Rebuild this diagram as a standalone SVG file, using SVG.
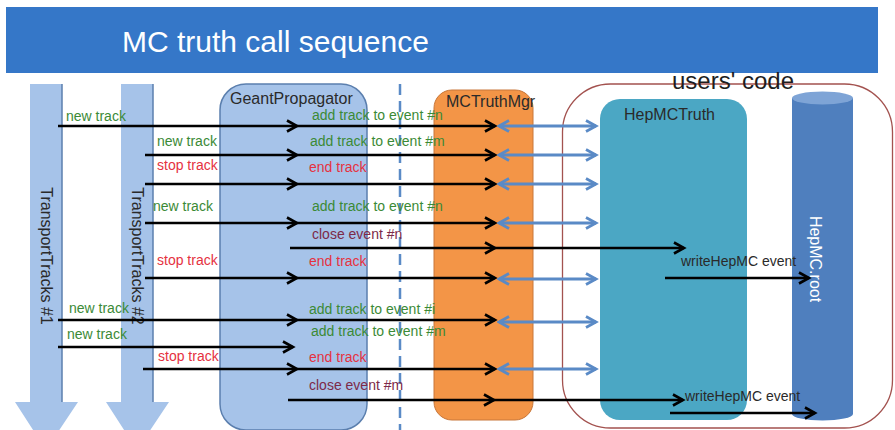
<svg xmlns="http://www.w3.org/2000/svg" width="895" height="430" viewBox="0 0 895 430">
  <style>
    text { font-family: "Liberation Sans", Arial, sans-serif; }
    .lbl { font-size: 14px; }
    .green { fill: #3b8a36; }
    .red { fill: #e5323f; }
    .maroon { fill: #7d2a48; }
    .dark { fill: #2a2a2a; }
    .call { stroke: #000; stroke-width: 2.6; fill: none; marker-end: url(#chev); }
    .link { stroke: #5a8ac6; stroke-width: 2.8; fill: none; marker-start: url(#chevBlueStart); marker-end: url(#chevBlue); }
    .pale { fill: #a6c3e9; }
    .edge { stroke: #5b7fae; stroke-width: 1.5; }
  </style>
  <defs>
    <marker id="chev" markerUnits="userSpaceOnUse" markerWidth="14" markerHeight="14" viewBox="0 0 14 14" refX="11.5" refY="7" orient="auto">
      <path d="M1.5,1.5 L11.5,7 L1.5,12.5" fill="none" stroke="#000" stroke-width="2.6"/>
    </marker>
    <marker id="chevBlue" markerUnits="userSpaceOnUse" markerWidth="14" markerHeight="14" viewBox="0 0 14 14" refX="11.5" refY="7" orient="auto">
      <path d="M1.5,1.5 L11.5,7 L1.5,12.5" fill="none" stroke="#5a8ac6" stroke-width="2.8"/>
    </marker>
    <marker id="chevBlueStart" markerUnits="userSpaceOnUse" markerWidth="14" markerHeight="14" viewBox="0 0 14 14" refX="2.5" refY="7" orient="auto">
      <path d="M12.5,1.5 L2.5,7 L12.5,12.5" fill="none" stroke="#5a8ac6" stroke-width="2.8"/>
    </marker>
  </defs>

  <rect width="895" height="430" fill="#fff"/>

  <!-- title bar -->
  <g id="header">
    <rect x="6" y="7" width="872" height="66" fill="#3577c8"/>
    <text x="122" y="52" font-size="30" fill="#fff">MC truth call sequence</text>
  </g>

  <!-- transport track lanes (downward block arrows) -->
  <g id="transport1">
    <path d="M30,84 H62 V402 H78 L46,450 L15,402 H30 Z" class="pale"/>
    <path d="M62,84 V402" class="edge"/>
    <text class="dark" font-size="16" text-anchor="middle" transform="translate(41,256) rotate(90)">TransportTracks #1</text>
  </g>
  <g id="transport2">
    <path d="M121,84 H153 V402 H169 L137,450 L106,402 H121 Z" class="pale"/>
    <path d="M153,84 V402" class="edge"/>
    <text class="dark" font-size="16" text-anchor="middle" transform="translate(132,256) rotate(90)">TransportTracks #2</text>
  </g>

  <!-- propagator -->
  <g id="geantPropagator">
    <rect x="220" y="84" width="147" height="346" rx="26" class="pale" stroke="#5b7fae" stroke-width="1.5"/>
    <text x="230" y="104" font-size="16" class="dark">GeantPropagator</text>
  </g>

  <!-- separator -->
  <g id="divider">
    <line x1="400" y1="84" x2="400" y2="430" stroke="#5a8ac6" stroke-width="2.5" stroke-dasharray="11 6"/>
  </g>

  <!-- truth manager -->
  <g id="mcTruthMgr">
    <rect x="434" y="90" width="99" height="330" rx="18" fill="#f39547" stroke="#c8773a" stroke-width="1"/>
    <text x="446" y="107" font-size="16" class="dark">MCTruthMgr</text>
  </g>

  <!-- user code region -->
  <g id="usersCode">
    <rect x="562.5" y="84" width="330" height="344" rx="48" fill="none" stroke="#a3524f" stroke-width="1.3"/>
    <text x="672" y="89" font-size="24" fill="#1e1e1e">users' code</text>
  </g>

  <g id="hepMCTruth">
    <rect x="600" y="99" width="147" height="321" rx="20" fill="#4ba7c4"/>
    <text x="624" y="120" font-size="16" class="dark">HepMCTruth</text>
  </g>

  <g id="hepMCRoot">
    <path d="M792,98 V414 A30.5,6.5 0 0 0 853,414 V98 Z" fill="#4f7fbe"/>
    <ellipse cx="822.5" cy="98" rx="30.5" ry="6.5" fill="#7ea4d6"/>
    <text x="0" y="0" font-size="16" fill="#fff" text-anchor="middle" transform="translate(810,259) rotate(90)">HepMC.root</text>
  </g>

  <!-- calls -->
  <g id="connectors">
    <!-- row 1 -->
    <line x1="58" y1="126" x2="297" y2="126" class="call"/>
    <line x1="297" y1="126" x2="495" y2="126" class="call"/>
    <!-- row 2 -->
    <line x1="145" y1="155" x2="297" y2="155" class="call"/>
    <line x1="297" y1="155" x2="495" y2="155" class="call"/>
    <!-- row 3 -->
    <line x1="145" y1="184" x2="297" y2="184" class="call"/>
    <line x1="297" y1="184" x2="495" y2="184" class="call"/>
    <!-- row 4 -->
    <line x1="145" y1="223" x2="297" y2="223" class="call"/>
    <line x1="297" y1="223" x2="495" y2="223" class="call"/>
    <!-- row 5: close event n -->
    <line x1="290" y1="248" x2="495" y2="248" class="call"/>
    <line x1="495" y1="248" x2="684" y2="248" class="call"/>
    <!-- row 6 -->
    <line x1="145" y1="278" x2="297" y2="278" class="call"/>
    <line x1="297" y1="278" x2="495" y2="278" class="call"/>
    <line x1="665" y1="278" x2="809" y2="278" class="call"/>
    <!-- row 7 -->
    <line x1="58" y1="320" x2="297" y2="320" class="call"/>
    <line x1="297" y1="320" x2="495" y2="320" class="call"/>
    <!-- row 8 -->
    <line x1="58" y1="347" x2="293" y2="347" class="call"/>
    <!-- row 9 -->
    <line x1="143" y1="369" x2="297" y2="369" class="call"/>
    <line x1="297" y1="369" x2="495" y2="369" class="call"/>
    <!-- row 10: close event m -->
    <line x1="288" y1="400" x2="494" y2="400" class="call"/>
    <line x1="494" y1="400" x2="683" y2="400" class="call"/>
    <line x1="670" y1="413" x2="815" y2="413" class="call"/>

    <!-- manager <-> user truth -->
    <line x1="499" y1="126" x2="596" y2="126" class="link"/>
    <line x1="499" y1="155" x2="596" y2="155" class="link"/>
    <line x1="499" y1="184" x2="596" y2="184" class="link"/>
    <line x1="499" y1="223" x2="596" y2="223" class="link"/>
    <line x1="499" y1="279" x2="596" y2="279" class="link"/>
    <line x1="499" y1="322" x2="596" y2="322" class="link"/>
    <line x1="499" y1="369" x2="596" y2="369" class="link"/>

    <!-- labels -->
    <text x="66" y="121" class="lbl green">new track</text>
    <text x="157" y="146" class="lbl green">new track</text>
    <text x="157" y="170" class="lbl red">stop track</text>
    <text x="153" y="211" class="lbl green">new track</text>
    <text x="157" y="265" class="lbl red">stop track</text>
    <text x="69" y="313" class="lbl green">new track</text>
    <text x="67" y="339" class="lbl green">new track</text>
    <text x="158" y="361" class="lbl red">stop track</text>

    <text x="312" y="120" class="lbl green">add track to event #n</text>
    <text x="310" y="146" class="lbl green">add track to event #m</text>
    <text x="309" y="172" class="lbl red">end track</text>
    <text x="312" y="211" class="lbl green">add track to event #n</text>
    <text x="312" y="239" class="lbl maroon">close event #n</text>
    <text x="309" y="266" class="lbl red">end track</text>
    <text x="309" y="314" class="lbl green">add track to event #i</text>
    <text x="311" y="336" class="lbl green">add track to event #m</text>
    <text x="309" y="362" class="lbl red">end track</text>
    <text x="309" y="390" class="lbl maroon">close event #m</text>

    <text x="681" y="266" class="lbl dark">writeHepMC event</text>
    <text x="685" y="401" class="lbl dark">writeHepMC event</text>
  </g>
</svg>
